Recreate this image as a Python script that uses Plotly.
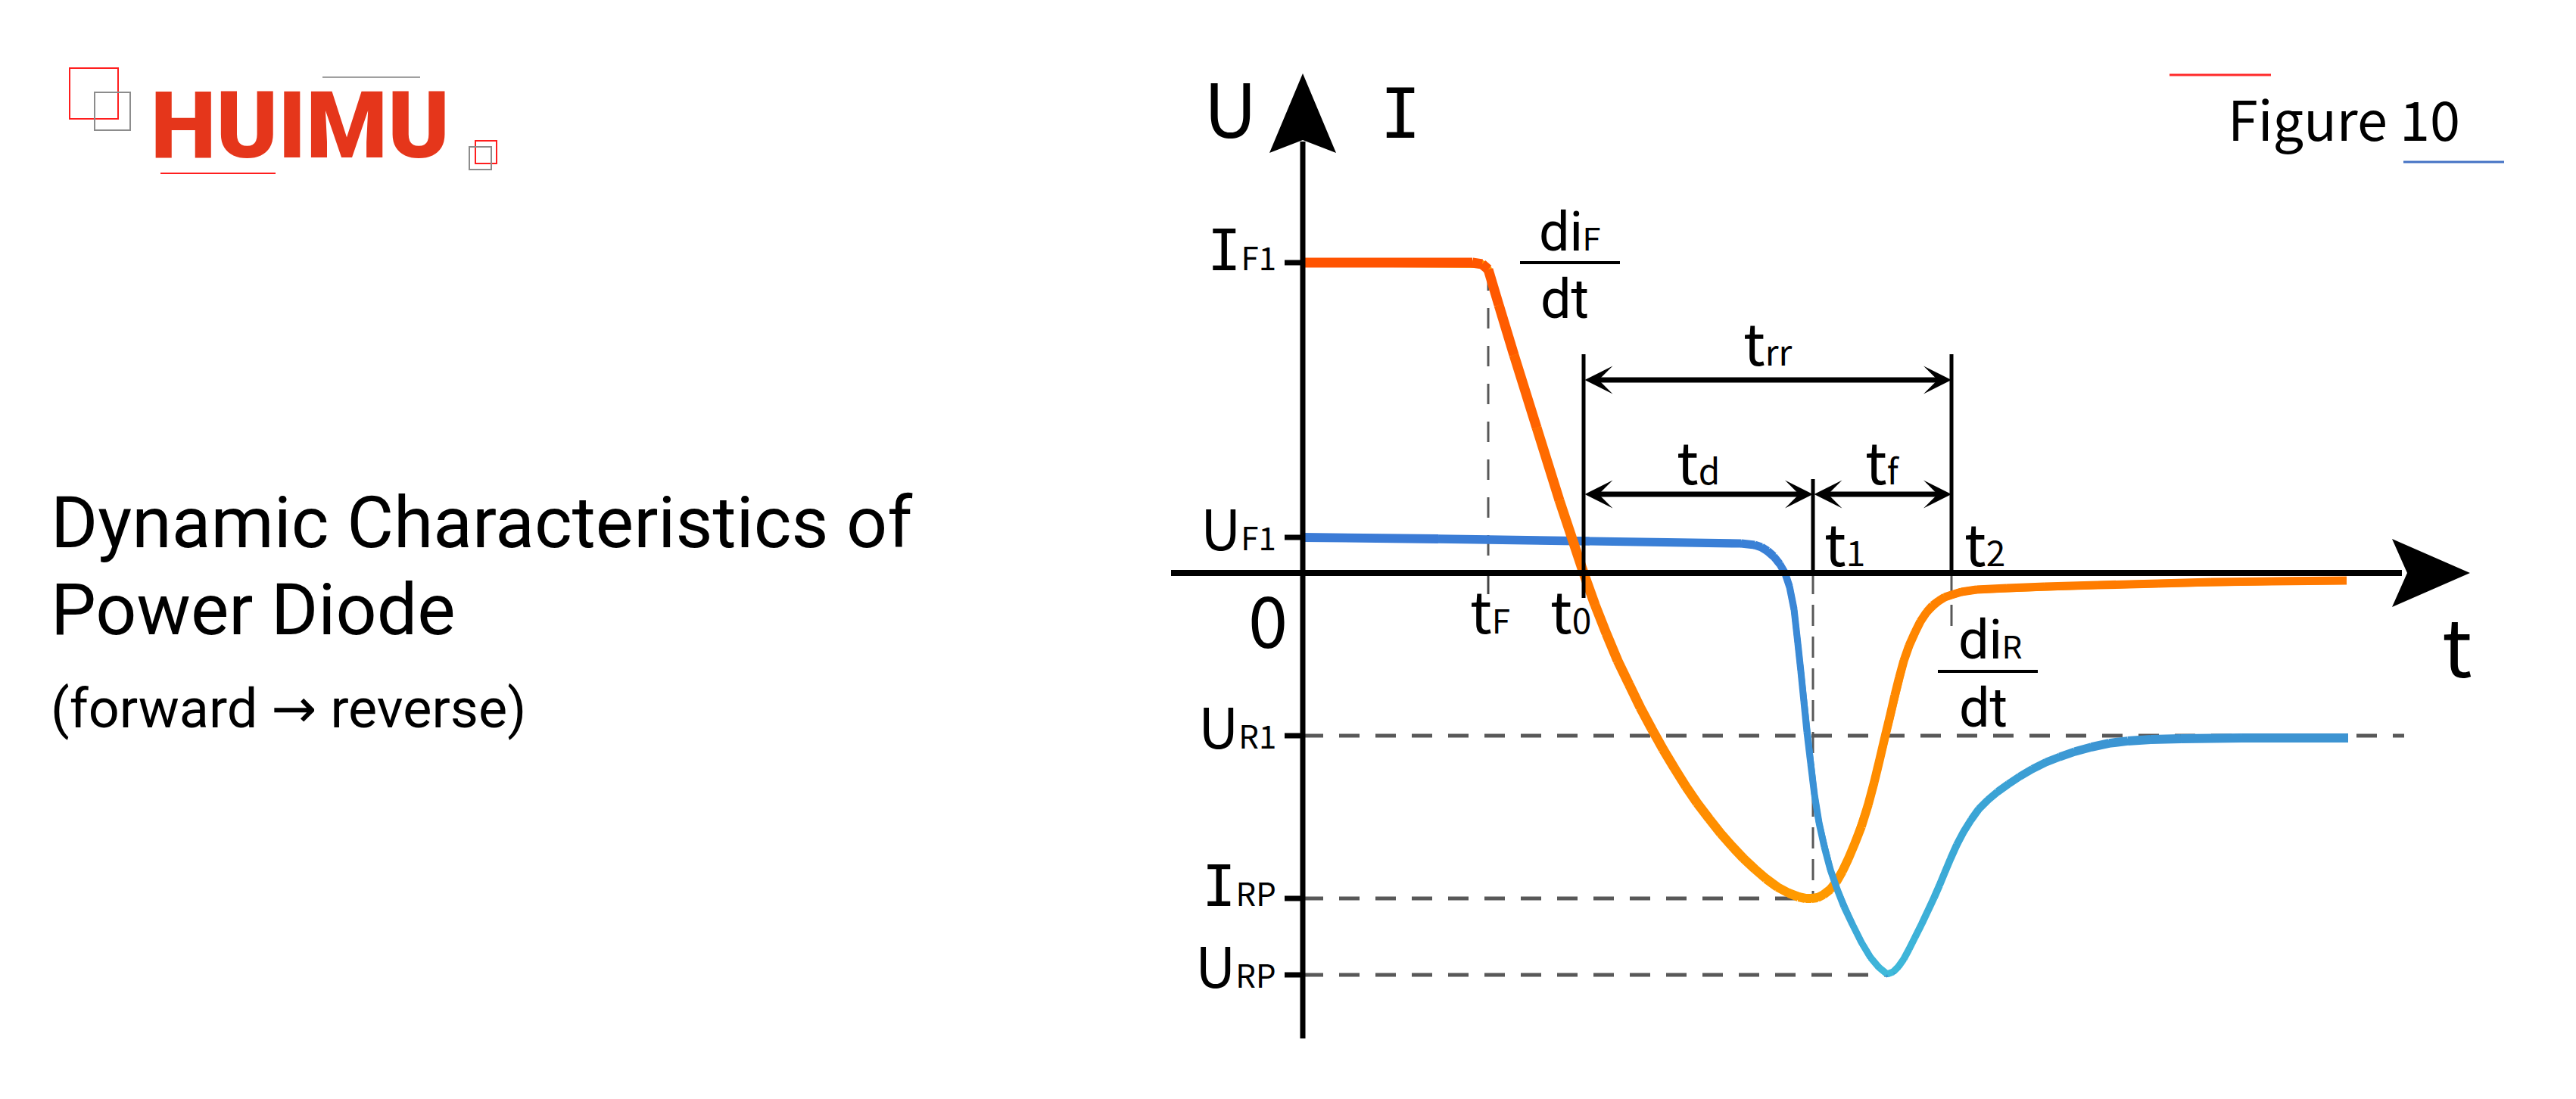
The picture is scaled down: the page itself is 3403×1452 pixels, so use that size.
import plotly.graph_objects as go

# ---------------------------------------------------------------- data
# characteristic instants on the time axis (arbitrary time units)
t_F, t_0, t_1, t_2 = 2.45, 3.71, 6.74, 8.57
time_marker_main = ["t", "t", "t", "t"]
time_marker_sub = ["F", "0", "1", "2"]

# characteristic levels on the U / I axis (arbitrary units)
I_F1 = 4.10
U_F1 = 0.47
U_R1 = -2.15
I_RP = -4.30
U_RP = -5.31
level_values = [I_F1, U_F1, U_R1, I_RP, U_RP]
level_main = ["I", "U", "U", "I", "U"]
level_sub = ["F1", "F1", "R1", "RP", "RP"]

# diode current i(t)  (orange)
current_t = [0.00, 2.24, 2.37, 2.45, 2.59, 2.79, 3.09, 3.39, 3.71,
             3.86, 4.01, 4.16, 4.31, 4.46, 4.61, 4.76, 4.91, 5.06, 5.21,
             5.37, 5.52, 5.67, 5.82, 5.97, 6.12, 6.27, 6.42, 6.55, 6.64,
             6.72, 6.80, 6.88, 6.97, 7.05, 7.13, 7.21, 7.29, 7.38, 7.47,
             7.55, 7.62, 7.69, 7.76, 7.82, 7.88, 7.94, 8.01, 8.09, 8.16,
             8.24, 8.32, 8.40, 8.48, 8.57, 8.70, 8.90, 9.30, 9.80, 10.50,
             11.30, 12.00, 12.80, 13.79]
current_v = [4.10, 4.10, 4.08, 4.01, 3.54, 2.88, 1.92, 0.96, 0.00,
             -0.42, -0.80, -1.16, -1.47, -1.78, -2.06, -2.33, -2.58, -2.82, -3.04,
             -3.25, -3.44, -3.61, -3.77, -3.91, -4.04, -4.15, -4.23, -4.28, -4.30,
             -4.30, -4.29, -4.25, -4.18, -4.08, -3.94, -3.77, -3.58, -3.35, -3.06,
             -2.76, -2.47, -2.17, -1.88, -1.62, -1.38, -1.16, -0.96, -0.78, -0.64,
             -0.52, -0.43, -0.37, -0.32, -0.29, -0.25, -0.22, -0.20, -0.18, -0.16,
             -0.14, -0.12, -0.11, -0.10]

# diode voltage u(t)  (blue)
voltage_t = [0.00, 1.79, 3.79, 5.79, 5.97, 6.06, 6.14, 6.22, 6.30, 6.37,
             6.43, 6.49, 6.54, 6.58, 6.62, 6.66, 6.71, 6.76, 6.82, 6.89,
             6.97, 7.06, 7.15, 7.26, 7.38, 7.50, 7.61, 7.72, 7.80, 7.87,
             7.94, 8.01, 8.09, 8.18, 8.26, 8.34, 8.41, 8.48, 8.56, 8.64,
             8.73, 8.83, 8.93, 9.05, 9.18, 9.32, 9.47, 9.64, 9.82, 10.00,
             10.20, 10.42, 10.65, 10.90, 11.20, 11.60, 12.40, 13.81]
voltage_v = [0.47, 0.45, 0.42, 0.39, 0.37, 0.34, 0.29, 0.22, 0.12, 0.00,
             -0.18, -0.48, -0.93, -1.30, -1.70, -2.10, -2.52, -2.93, -3.30, -3.62,
             -3.92, -4.18, -4.41, -4.64, -4.88, -5.08, -5.21, -5.30, -5.27, -5.20,
             -5.10, -4.97, -4.81, -4.63, -4.46, -4.29, -4.13, -3.96, -3.77, -3.59,
             -3.42, -3.26, -3.12, -3.00, -2.89, -2.79, -2.69, -2.59, -2.50, -2.43,
             -2.36, -2.30, -2.25, -2.22, -2.20, -2.19, -2.18, -2.18]

# ---------------------------------------------------------------- layout constants
W, H = 3403, 1452
ORIGIN_PX = (1721, 757)      # canvas pixel of t=0, v=0
UNIT = 100.0                 # pixels per data unit (both axes)
X_RANGE = [-ORIGIN_PX[0] / UNIT, (W - ORIGIN_PX[0]) / UNIT]
Y_RANGE = [-(H - ORIGIN_PX[1]) / UNIT, ORIGIN_PX[1] / UNIT]

FONT = "Noto Sans CJK SC"
TITLE_FONT = "Roboto"
MONO = "DejaVu Sans Mono"
BLACK = "#000000"
DASH_GREY = "#585858"

T_AXIS_START, T_AXIS_TIP = -1.74, 15.42
V_AXIS_BOTTOM, V_AXIS_TIP = -6.15, 6.60
T_RR_ROW, T_D_ROW = 2.55, 1.04
BAR_TOP_TRR, BAR_TOP_T1 = 2.89, 1.24
UR1_DASH_END = 14.55

fig = go.Figure()


def hex2rgb(h):
    return tuple(int(h[i:i + 2], 16) for i in (1, 3, 5))


def interp(t, stops):
    if t <= stops[0][0]:
        return stops[0][1]
    for (a, va), (b, vb) in zip(stops[:-1], stops[1:]):
        if a <= t <= b:
            f = (t - a) / (b - a) if b > a else 0
            if isinstance(va, str):
                ca, cb = hex2rgb(va), hex2rgb(vb)
                c = [round(ca[k] + (cb[k] - ca[k]) * f) for k in range(3)]
                return "rgb(%d,%d,%d)" % tuple(c)
            return va + (vb - va) * f
    return stops[-1][1]


def add_curve(ts, vs, cstops, wstops, t_lo=None, t_hi=None, underlay=True):
    if underlay:
        fig.add_trace(go.Scatter(x=ts, y=vs, mode="lines", hoverinfo="skip",
                                 line=dict(color=interp((ts[0] + ts[-1]) / 2, cstops),
                                           width=min(w for _, w in wstops) - 1)))
    for i in range(len(ts) - 1):
        tm = (ts[i] + ts[i + 1]) / 2
        if t_lo is not None and tm < t_lo:
            continue
        if t_hi is not None and tm >= t_hi:
            continue
        fig.add_trace(go.Scatter(x=ts[i:i + 2], y=vs[i:i + 2], mode="lines",
                                 hoverinfo="skip",
                                 line=dict(color=interp(tm, cstops), width=interp(tm, wstops))))


orange_stops = [(0, "#FF5000"), (t_F, "#FF5600"), (t_0, "#FF7800"), (5.5, "#FF9000"),
                (t_1, "#FF9C00"), (7.6, "#FF8C00"), (t_2, "#FF7E00"), (14, "#FF7800")]
orange_w = [(0, 13), (t_0, 13), (t_1, 12), (t_2, 11), (14, 11)]
blue_stops = [(0, "#3B7AD6"), (6.3, "#3A80D6"), (6.9, "#3A98D6"), (7.72, "#3FBBDA"),
              (8.6, "#3BA8D6"), (10.5, "#3C95D3"), (14, "#3D93D2")]
blue_w = [(0, 12), (6.2, 11), (6.5, 9), (7.7, 9), (9.0, 10), (11, 12), (14, 12)]


def hline(y, x0, x1, color, width, dash=None):
    fig.add_trace(go.Scatter(x=[x0, x1], y=[y, y], mode="lines", hoverinfo="skip",
                             line=dict(color=color, width=width, dash=dash)))


def vline(x, y0, y1, color, width, dash=None):
    fig.add_trace(go.Scatter(x=[x, x], y=[y0, y1], mode="lines", hoverinfo="skip",
                             line=dict(color=color, width=width, dash=dash)))


# ------------------------------------------------ reference (dashed) lines
hline(U_R1, 0, UR1_DASH_END, DASH_GREY, 5, "27px,21px")
hline(I_RP, 0, t_1, DASH_GREY, 5, "27px,21px")
hline(U_RP, 0, voltage_t[voltage_v.index(min(voltage_v))], DASH_GREY, 5, "27px,21px")
vline(t_F, I_F1 - 0.1, 0, DASH_GREY, 3, "27px,23px")
vline(t_1, 0, I_RP, DASH_GREY, 3, "28px,14px")
vline(t_2, 0, -0.72, DASH_GREY, 3, "28px,14px")
vline(t_F, 0, -0.28, "#444444", 3)

# ------------------------------------------------ curves
add_curve(voltage_t, voltage_v, blue_stops, blue_w, t_hi=6.0)
add_curve(current_t, current_v, orange_stops, orange_w)
add_curve(voltage_t, voltage_v, blue_stops, blue_w, t_lo=6.0, underlay=False)

# ------------------------------------------------ axes
hline(0, T_AXIS_START, T_AXIS_TIP - 0.9, BLACK, 8)
vline(0, V_AXIS_BOTTOM, V_AXIS_TIP - 0.9, BLACK, 7)
shapes = []
shapes.append(dict(type="path", xref="x", yref="y", fillcolor=BLACK, line=dict(width=0),
                   path="M %f,%f L %f,%f L %f,%f L %f,%f Z" % (
                       0, V_AXIS_TIP, 0.44, V_AXIS_TIP - 1.05, 0, V_AXIS_TIP - 0.88,
                       -0.44, V_AXIS_TIP - 1.05)))
shapes.append(dict(type="path", xref="x", yref="y", fillcolor=BLACK, line=dict(width=0),
                   path="M %f,%f L %f,%f L %f,%f L %f,%f Z" % (
                       T_AXIS_TIP, 0, T_AXIS_TIP - 1.03, 0.45, T_AXIS_TIP - 0.83, 0,
                       T_AXIS_TIP - 1.03, -0.45)))
for lv in level_values:
    shapes.append(dict(type="line", xref="x", yref="y", x0=-0.24, x1=0, y0=lv, y1=lv,
                       line=dict(color=BLACK, width=7)))

# solid marker bars
vline(t_0, BAR_TOP_TRR, -0.33, BLACK, 5)
vline(t_2, BAR_TOP_TRR, 0, BLACK, 5)
vline(t_1, BAR_TOP_T1, 0, BLACK, 5)


def dim_arrow(xa, xb, y):
    fig.add_annotation(x=xb, y=y, ax=xa, ay=y, xref="x", yref="y", axref="x", ayref="y",
                       text="", showarrow=True, arrowhead=3, startarrowhead=3,
                       arrowside="end+start", arrowsize=0.88, startarrowsize=0.88,
                       arrowwidth=7, arrowcolor=BLACK, standoff=0, startstandoff=0)


dim_arrow(t_0, t_2, T_RR_ROW)
dim_arrow(t_0, t_1, T_D_ROW)
dim_arrow(t_1, t_2, T_D_ROW)


# ------------------------------------------------ labels inside the chart
def txt(x, y, text, size, xanchor="center", family=FONT, align="center"):
    fig.add_annotation(x=x, y=y, xref="x", yref="y", text=text, showarrow=False,
                       xanchor=xanchor, yanchor="middle", align=align,
                       font=dict(family=family, size=size, color=BLACK))


def sub(s, size=42):
    return "<span style='font-size:%dpx'>%s</span>" % (size, s)


def mono(s):
    return "<span style='font-family:%s'>%s</span>" % (MONO, s)


for lv, m, s in zip(level_values, level_main, level_sub):
    main = mono(m) if m == "I" else m
    txt(-0.33, lv + 0.16, main + sub(s), 74, xanchor="right")

txt(-0.46, -0.58, "0", 94)
txt(-0.96, 6.18, "U", 98)
txt(1.29, 6.07, "I", 90, family=MONO)
txt(15.25, -0.92, "t", 105)

txt(t_F + 0.02, -0.47, time_marker_main[0] + sub(time_marker_sub[0], 44), 76)
txt(t_0 - 0.17, -0.47, time_marker_main[1] + sub(time_marker_sub[1], 46), 76)
txt(t_1 + 0.13, 0.42, time_marker_main[2] + sub(time_marker_sub[2], 46), 76, xanchor="left")
txt(t_2 + 0.15, 0.42, time_marker_main[3] + sub(time_marker_sub[3], 46), 76, xanchor="left")
txt((t_0 + t_1) / 2, T_D_ROW + 0.46, "t" + sub("d", 46), 76)
txt((t_1 + t_2) / 2, T_D_ROW + 0.46, "t" + sub("f", 46), 76)
txt((t_0 + t_2) / 2, T_RR_ROW + 0.52, "t" + sub("rr", 46), 76)

# di/dt fractions: numerator, bar, denominator
txt(3.10, 4.51, "di" + sub("F", 42), 72, xanchor="left", family=TITLE_FONT)
txt(3.12, 3.62, "dt", 72, xanchor="left", family=TITLE_FONT)
shapes.append(dict(type="line", xref="x", yref="y", x0=2.87, x1=4.19, y0=I_F1, y1=I_F1,
                   line=dict(color=BLACK, width=4)))
txt(8.64, -0.88, "di" + sub("R", 42), 72, xanchor="left", family=TITLE_FONT)
txt(8.65, -1.78, "dt", 72, xanchor="left", family=TITLE_FONT)
shapes.append(dict(type="line", xref="x", yref="y", x0=8.39, x1=9.71, y0=-1.30, y1=-1.30,
                   line=dict(color=BLACK, width=4)))


# ------------------------------------------------ page decorations (paper coords)
def PX(px):
    return px / W


def PY(py):
    return 1 - py / H


def prect(x0, y0, x1, y1, color, width=2):
    shapes.append(dict(type="rect", xref="paper", yref="paper", x0=PX(x0), x1=PX(x1),
                       y0=PY(y0), y1=PY(y1), line=dict(color=color, width=width)))


def pline(x0, x1, y, color, width=2):
    shapes.append(dict(type="line", xref="paper", yref="paper", x0=PX(x0), x1=PX(x1),
                       y0=PY(y), y1=PY(y), line=dict(color=color, width=width)))


prect(92, 90, 156, 157, "#FF1E1E")
prect(125, 122, 172, 172, "#8C8C8C")
prect(628, 186, 656, 216, "#FF1E1E")
prect(620, 194, 649, 224, "#8C8C8C")
pline(426, 555, 102, "#A0A0A0")
pline(212, 364, 229, "#FF1E1E")
pline(2866, 3000, 99, "#FF2A2A", 3)
pline(3175, 3308, 214, "#4472C4", 3)


def ptxt(x, y, text, size, family=FONT, color=BLACK, xanchor="left", weight=None):
    f = dict(family=family, size=size, color=color)
    if weight:
        f["weight"] = weight
    fig.add_annotation(x=PX(x), y=PY(y), xref="paper", yref="paper", text=text,
                       showarrow=False, xanchor=xanchor, yanchor="middle", align="left",
                       font=f)


ptxt(396, 166, "HUIMU", 123, family="Roboto", color="#E5361B", xanchor="center", weight=900)
ptxt(3096, 154, "Figure 10", 72, xanchor="center")
ptxt(65, 690, "Dynamic Characteristics of", 95, family=TITLE_FONT)
ptxt(65, 805, "Power Diode", 95, family=TITLE_FONT)
ptxt(65, 936, "(forward <span style='font-family:DejaVu Sans'>\u2192</span> reverse)", 72,
     family=TITLE_FONT)

fig.update_layout(
    width=W, height=H, autosize=False,
    margin=dict(l=0, r=0, t=0, b=0, pad=0),
    paper_bgcolor="white", plot_bgcolor="white",
    showlegend=False, shapes=shapes,
    xaxis=dict(visible=False, range=X_RANGE, fixedrange=True),
    yaxis=dict(visible=False, range=Y_RANGE, fixedrange=True),
)

fig.write_html("out.html", config={"displayModeBar": False},
               post_script="document.body.style.margin='0';document.body.style.overflow='hidden';")
